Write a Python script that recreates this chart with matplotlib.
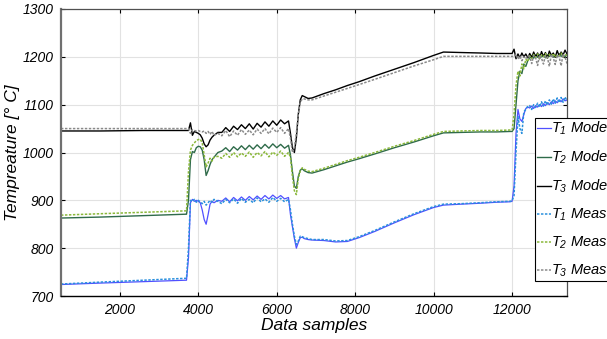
import matplotlib
matplotlib.use("Agg")
import matplotlib.pyplot as plt

plt.rcParams['font.family'] = ['Liberation Sans', 'DejaVu Sans']
plt.rcParams['mathtext.fontset'] = 'custom'
plt.rcParams['mathtext.it'] = 'Liberation Sans:italic'
plt.rcParams['mathtext.rm'] = 'Liberation Sans:italic'

samples = [500, 1500, 2600, 3680,
           3700, 3750, 3800, 3850, 3900, 3950, 4000, 4050, 4100, 4150, 4200, 4250, 4300, 4350, 4400, 4500,
           4600, 4700, 4800, 4900, 5000, 5100, 5200, 5300, 5400, 5500, 5600, 5700, 5800, 5900, 6000, 6100, 6200, 6300,
           6350, 6400, 6450, 6500, 6550, 6600, 6650, 6700, 6800, 6900,
           7200, 7500, 7800, 8100, 8500, 9000, 9500, 10000, 10250,
           10700, 11200, 11600, 11950,
           12000, 12050, 12100, 12150, 12200, 12250, 12300, 12350, 12400,
           12450, 12500, 12550, 12600, 12650, 12700, 12750, 12800, 12850, 12900,
           12950, 13000, 13050, 13100, 13150, 13200, 13250, 13300, 13350, 13400]

t1_model = [724, 727, 730, 733,
            733, 780, 895, 902, 898, 900, 898, 895, 880, 860, 850, 870, 892, 898, 895, 900,
            898, 905, 897, 906, 899, 907, 900, 908, 901, 909, 902, 910, 903, 911, 904, 910, 903, 906,
            870, 845, 820, 800, 812, 822, 823, 820, 818, 817,
            816, 813, 814, 822, 835, 853, 870, 885, 890,
            892, 894, 896, 897,
            898, 930, 1040, 1090, 1070, 1065, 1080, 1092, 1095,
            1093, 1097, 1092, 1098, 1095, 1100, 1096, 1102, 1098, 1104,
            1100, 1106, 1102, 1108, 1104, 1110, 1106, 1112, 1108, 1110]

t2_model = [863, 865, 868, 871,
            871, 900, 985, 1002, 1000, 1010, 1013, 1012, 1005, 985, 952, 962, 975, 985, 990, 1000,
            1003, 1010, 1002, 1012, 1005, 1014, 1006, 1015, 1007, 1016, 1008, 1017, 1009, 1018, 1010, 1017, 1009, 1015,
            995, 960, 930, 925, 950, 963, 966, 962, 958, 957,
            964, 972, 980, 987, 997, 1010, 1022, 1035, 1041,
            1042, 1043, 1043, 1044,
            1044, 1050, 1100, 1150, 1170, 1165, 1185, 1180, 1192,
            1198, 1203, 1197, 1204, 1199, 1205, 1200, 1203, 1198, 1204,
            1201, 1205, 1199, 1203, 1200, 1206, 1201, 1204, 1200, 1205]

t3_model = [1045, 1045, 1046, 1046,
            1046, 1046, 1062, 1036, 1044, 1042, 1040, 1037, 1030, 1018, 1012, 1016, 1026, 1032, 1036, 1042,
            1042, 1052, 1044, 1055, 1048, 1058, 1050, 1060, 1049, 1061, 1053, 1064, 1055, 1066, 1057, 1068, 1060, 1066,
            1040, 1010, 1000, 1030, 1080, 1110, 1119, 1117, 1113, 1114,
            1123, 1131, 1140, 1148, 1160, 1174, 1188, 1203, 1210,
            1209, 1208, 1207, 1207,
            1207, 1216, 1196, 1206, 1198, 1208, 1200, 1206, 1198,
            1207, 1198, 1210, 1200, 1208, 1196, 1211, 1201, 1209, 1197,
            1212, 1203, 1208, 1199, 1213, 1202, 1210, 1204, 1214, 1206]

t1_meas = [725, 729, 733, 737,
           737, 800, 900, 898, 902, 896, 900, 897, 893, 898, 890, 895, 900, 896, 902, 898,
           893, 902, 895, 903, 894, 904, 896, 902, 895, 905, 897, 903, 896, 906, 898, 904, 897, 902,
           880, 850, 825, 808, 815, 825, 824, 822, 820, 818,
           818, 815, 816, 824, 837, 855, 872, 887, 892,
           893, 895, 897, 898,
           899, 910, 1000, 1075, 1050, 1040, 1085, 1090, 1097,
           1098, 1090, 1100, 1094, 1103, 1095, 1106, 1097, 1108, 1099,
           1110, 1101, 1112, 1103, 1114, 1104, 1115, 1105, 1116, 1108]

t2_meas = [869, 872, 875, 878,
           878, 960, 1005, 1015, 1020, 1025, 1027, 1028, 1020, 995, 970, 978, 988, 982, 990, 992,
           988, 998, 990, 1000, 991, 999, 992, 1001, 990, 1000, 993, 1002, 991, 1001, 994, 1003, 992, 1000,
           990, 950, 920, 912, 945, 962, 968, 965, 961, 960,
           967, 975, 983, 990, 1000, 1013, 1025, 1038, 1044,
           1045, 1046, 1046, 1047,
           1047, 1080, 1140, 1170, 1160, 1185, 1175, 1195, 1190,
           1202, 1196, 1205, 1199, 1206, 1197, 1204, 1200, 1207, 1198,
           1205, 1201, 1207, 1199, 1204, 1202, 1208, 1200, 1205, 1203]

t3_meas = [1050, 1050, 1050, 1050,
           1050, 1050, 1040, 1048, 1046, 1045, 1046, 1044, 1043, 1045, 1040, 1044, 1038, 1044, 1036, 1040,
           1035, 1046, 1033, 1045, 1036, 1048, 1038, 1047, 1037, 1049, 1040, 1050, 1039, 1051, 1042, 1052, 1040, 1050,
           1030, 1000, 1010, 1040, 1080, 1105, 1112, 1112, 1110, 1110,
           1118, 1126, 1134, 1142, 1153, 1167, 1181, 1194, 1201,
           1201, 1201, 1201, 1201,
           1201, 1200, 1205, 1195, 1202, 1192, 1200, 1196, 1203,
           1200, 1186, 1203, 1198, 1182, 1204, 1197, 1185, 1203, 1199,
           1180, 1205, 1198, 1184, 1204, 1200, 1181, 1206, 1199, 1186]

labels = [r'$T_1$ Model', r'$T_2$ Model', r'$T_3$ Model',
          r'$T_1$ Meas', r'$T_2$ Meas', r'$T_3$ Meas']
x_ticks = [2000, 4000, 6000, 8000, 10000, 12000]
y_ticks = [700, 800, 900, 1000, 1100, 1200, 1300]

fig = plt.figure(figsize=(6.07, 3.39), dpi=100)
ax = fig.add_axes([61/607, 43/339, 506/607, 287/339])

dot = (0, (1.6, 1.0))
l1, = ax.plot(samples, t1_model, color='#5050ff', lw=0.9, label=labels[0])
l2, = ax.plot(samples, t2_model, color='#2f6b4a', lw=1.0, label=labels[1])
l3, = ax.plot(samples, t3_model, color='black', lw=1.0, label=labels[2])
l4, = ax.plot(samples, t1_meas, color='#2a90dd', lw=1.1, ls=dot, label=labels[3])
l5, = ax.plot(samples, t2_meas, color='#8ab83a', lw=1.1, ls=dot, label=labels[4])
l6, = ax.plot(samples, t3_meas, color='#8a8a8a', lw=1.1, ls=dot, label=labels[5])

ax.set_xlim(500, 13400)
ax.set_ylim(700, 1300)
ax.set_xticks(x_ticks)
ax.set_yticks(y_ticks)
ax.grid(True, color='#e2e2e2', lw=0.8)
ax.set_axisbelow(True)
ax.tick_params(direction='in', top=True, right=True, length=3, width=0.8,
               labelsize=10, pad=5)
for lab in ax.get_xticklabels() + ax.get_yticklabels():
    lab.set_fontstyle('italic')
for s in ['top', 'right']:
    ax.spines[s].set_color('#505050')
    ax.spines[s].set_linewidth(0.9)
ax.spines['left'].set_color('#707070')
ax.spines['left'].set_linewidth(1.6)
ax.spines['bottom'].set_color('black')
ax.spines['bottom'].set_linewidth(1.0)

ax.set_xlabel('Data samples', fontsize=12.5, fontstyle='italic', labelpad=1)
ax.set_ylabel('Tempreature [° C]', fontsize=12.5, fontstyle='italic', labelpad=2)

leg = ax.legend(handles=[l1, l2, l3, l4, l5, l6], loc='upper left',
                bbox_to_anchor=((535 - 61) / 506, (296 - 118) / 287),
                borderaxespad=0, fancybox=False, framealpha=1,
                edgecolor='black', fontsize=10.5, handlelength=0.95,
                handletextpad=0.05, labelspacing=0.8, borderpad=0.12)
leg.get_frame().set_linewidth(0.8)
for t in leg.get_texts():
    t.set_fontstyle('italic')

fig.savefig('out.png', dpi=100)
